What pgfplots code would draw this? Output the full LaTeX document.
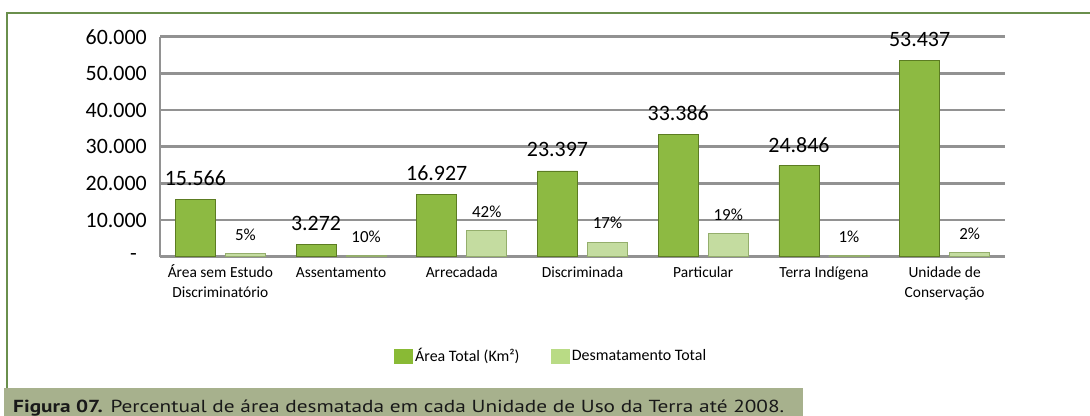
\documentclass[border=0pt]{standalone}
\usepackage{fontspec}
\setmainfont{Carlito}
\newfontfamily\capfont{PT Sans}
\usepackage{graphicx}
\usepackage{pgfplots}
\usepackage{pgfplotstable}
\pgfplotsset{compat=1.18}
\definecolor{barD}{HTML}{8DBA42}
\definecolor{barDedge}{HTML}{5C7C22}
\definecolor{barL}{HTML}{C4DCA0}
\definecolor{barLedge}{HTML}{94AE6C}
\definecolor{legD}{HTML}{89BA35}
\definecolor{legL}{HTML}{B9DB85}
\definecolor{gridc}{HTML}{929292}
\definecolor{frameG}{HTML}{6A8F4C}
\definecolor{capbox}{HTML}{A7B18D}

\pgfplotstableread{
x y lab
0 15566 15.566
1 3272 3.272
2 16927 16.927
3 23397 23.397
4 33386 33.386
5 24846 24.846
6 53437 53.437
}\areatab

\pgfplotstableread{
x y lab
0 778 5\%
1 327 10\%
2 7109 42\%
3 3977 17\%
4 6343 19\%
5 248 1\%
6 1069 2\%
}\desmtab

\begin{document}
\begin{tikzpicture}
\useasboundingbox (0,0) rectangle (1090bp,-416bp);
\fill[white] (0,0) rectangle (1090bp,-416bp);
% frame
\draw[frameG, line width=2bp] (7.3bp,-389bp) -- (7.3bp,-12.7bp) -- (1092bp,-12.7bp);
% caption box
\fill[capbox] (4bp,-388.3bp) rectangle (803bp,-420bp);
\node[anchor=base west, inner sep=0pt, text=black!90] at (13bp,-412bp)
  {\resizebox{771bp}{\height}{\capfont\fontsize{17.5}{18}\selectfont\textbf{Figura 07.} Percentual de área desmatada em cada Unidade de Uso da Terra até 2008.}};

\begin{axis}[
  at={(160bp,-256.7bp)}, anchor=south west,
  scale only axis, width=845bp, height=220bp,
  xmin=-0.5, xmax=6.5, ymin=0, ymax=60000,
  clip=false,
  scaled y ticks=false,
  axis x line*=bottom, axis y line*=left,
  axis line style={gridc, line width=2.5bp},
  ymajorgrids, major grid style={gridc, line width=2.5bp},
  major tick length=0pt,
  ytick={0,10000,20000,30000,40000,50000,60000},
  yticklabels={-\kern10bp,10.000,20.000,30.000,40.000,50.000,60.000},
  yticklabel style={font=\fontsize{22}{22}\selectfont, inner sep=0pt, anchor=east, xshift=-13bp},
  xtick={0,...,6},
  xticklabels={{\strut Área sem Estudo\\Discriminatório},\strut Assentamento,\strut Arrecadada,\strut Discriminada,\strut Particular,\strut Terra Indígena,{\strut Unidade de\\Conservação}},
  xticklabel style={font=\fontsize{15.5}{20}\selectfont, align=center, inner sep=0pt, anchor=north, yshift=-7bp},
  ybar, bar width=40bp,
  legend style={at={(0.4633,-0.451)}, anchor=center, draw=none, fill=none,
     legend columns=2, font=\fontsize{16}{16}\selectfont,
     nodes={inner sep=3bp},
     /tikz/every even column/.append style={column sep=28bp}},
  legend cell align=left,
]
\addplot[forget plot, bar shift=-25bp, draw=barDedge, line width=0.8bp,
  fill=barD,
  nodes near coords, point meta=explicit symbolic,
  every node near coord/.append style={font=\fontsize{22}{22}\selectfont, text=black, anchor=center, yshift=21bp}]
  table[x=x, y=y, meta=lab] {\areatab};
\addplot[forget plot, bar shift=25bp, draw=barLedge, line width=0.8bp,
  fill=barL,
  nodes near coords, point meta=explicit symbolic,
  every node near coord/.append style={font=\fontsize{17}{17}\selectfont, text=black, anchor=center, yshift=19bp}]
  table[x=x, y=y, meta=lab] {\desmtab};
\addlegendimage{legend image code/.code={\fill[legD] (0bp,-7bp) rectangle (18bp,7bp);}}
\addlegendentry{Área Total (Km²)}
\addlegendimage{legend image code/.code={\fill[legL] (0bp,-7bp) rectangle (18bp,7bp);}}
\addlegendentry{Desmatamento Total}
\end{axis}
\end{tikzpicture}
\end{document}
